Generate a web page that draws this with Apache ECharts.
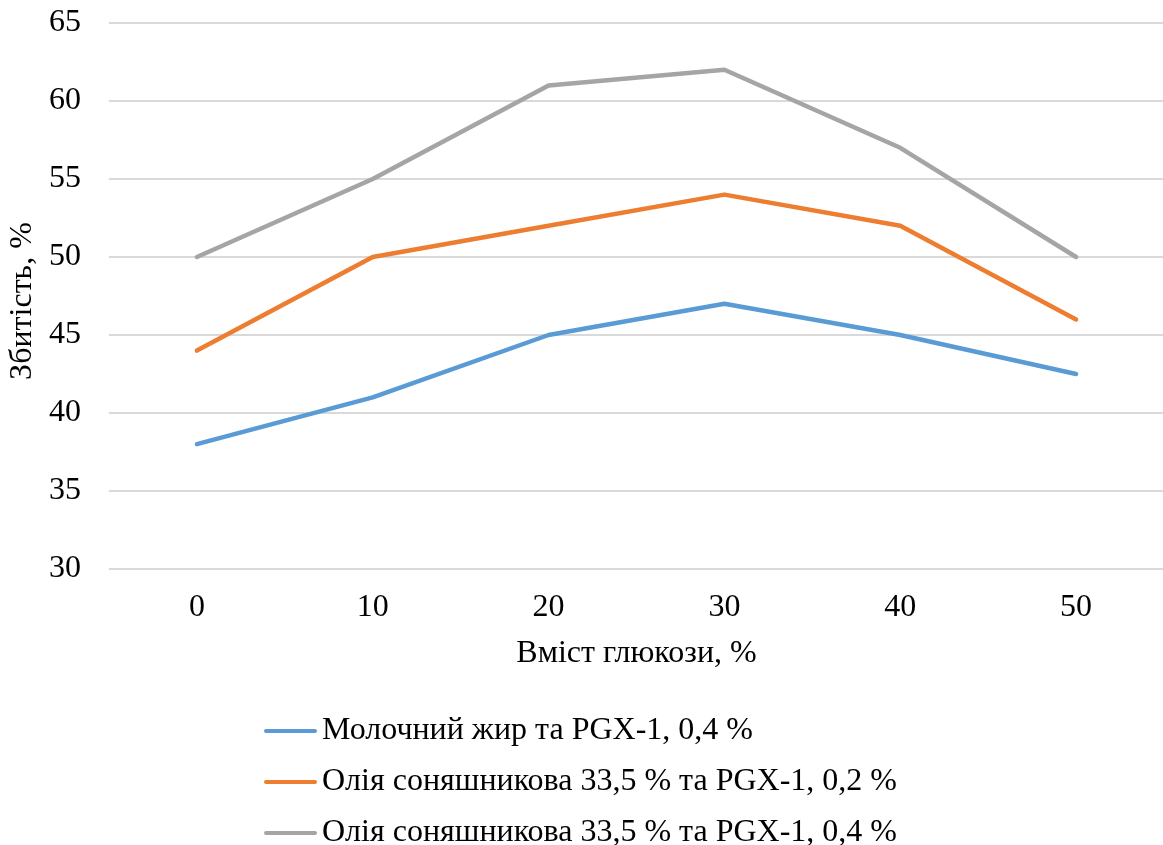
<!DOCTYPE html>
<html>
<head>
<meta charset="utf-8">
<script src="https://cdn.jsdelivr.net/npm/echarts@6/dist/echarts.min.js"></script>
<style>
  html, body { margin: 0; padding: 0; background: #fff; }
  #chart { width: 1163px; height: 845px; }
</style>
</head>
<body>
<div id="chart"></div>
<script>
// Glucose content, % (x categories)
const categories = ['0', '10', '20', '30', '40', '50'];
// Foaming capacity, % for each formulation
const milkFatPgx04 = [38, 41, 45, 47, 45, 42.5];
const sunflower335Pgx02 = [44, 50, 52, 54, 52, 46];
const sunflower335Pgx04 = [50, 55, 61, 62, 57, 50];
const seriesNames = [
  'Молочний жир та PGX-1, 0,4 %',
  'Олія соняшникова 33,5 % та PGX-1, 0,2 %',
  'Олія соняшникова 33,5 % та PGX-1, 0,4 %'
];
const colors = ['#5B9BD5', '#ED7D31', '#A5A5A5'];

const FONT = '"Liberation Serif", "Times New Roman", serif';
const chart = echarts.init(document.getElementById('chart'), null, { renderer: 'canvas' });

const lineIcon = 'path://M2,0 L51,0 A2,2 0 0 1 51,4 L2,4 A2,2 0 0 1 2,0 Z';

chart.setOption({
  animation: false,
  color: colors,
  textStyle: { fontFamily: FONT, color: '#000' },
  grid: {
    left: 109, right: -1, top: 23, bottom: 276,
    containLabel: false, outerBoundsMode: 'none'
  },
  xAxis: {
    type: 'category',
    data: categories,
    boundaryGap: true,
    name: 'Вміст глюкози, %',
    nameLocation: 'middle',
    nameGap: 69,
    nameTextStyle: { fontFamily: FONT, fontSize: 32, color: '#000' },
    axisLine: { show: false },
    axisTick: { show: false },
    axisLabel: { fontFamily: FONT, fontSize: 32, color: '#000', margin: 23 },
    splitLine: { show: false }
  },
  yAxis: {
    type: 'value',
    min: 30,
    max: 65,
    interval: 5,
    name: 'Збитість, %',
    nameLocation: 'middle',
    nameGap: 62,
    nameTextStyle: { fontFamily: FONT, fontSize: 32, color: '#000', padding: [0, 10, 0, 0] },
    axisLine: { show: false },
    axisTick: { show: false },
    axisLabel: { fontFamily: FONT, fontSize: 32, color: '#000', margin: 28 },
    splitLine: { show: true, lineStyle: { color: '#D9D9D9', width: 2 } }
  },
  legend: {
    orient: 'vertical',
    left: 259,
    top: 710,
    height: 200,
    itemWidth: 53,
    itemHeight: 4,
    itemGap: 19,
    icon: lineIcon,
    textStyle: { fontFamily: FONT, fontSize: 32, color: '#000', lineHeight: 32 },
    data: seriesNames
  },
  series: [
    { name: seriesNames[0], type: 'line', data: milkFatPgx04 },
    { name: seriesNames[1], type: 'line', data: sunflower335Pgx02 },
    { name: seriesNames[2], type: 'line', data: sunflower335Pgx04 }
  ].map(s => Object.assign(s, {
    symbol: 'none',
    lineStyle: { width: 4.5, cap: 'round', join: 'round' }
  }))
});
</script>
</body>
</html>
